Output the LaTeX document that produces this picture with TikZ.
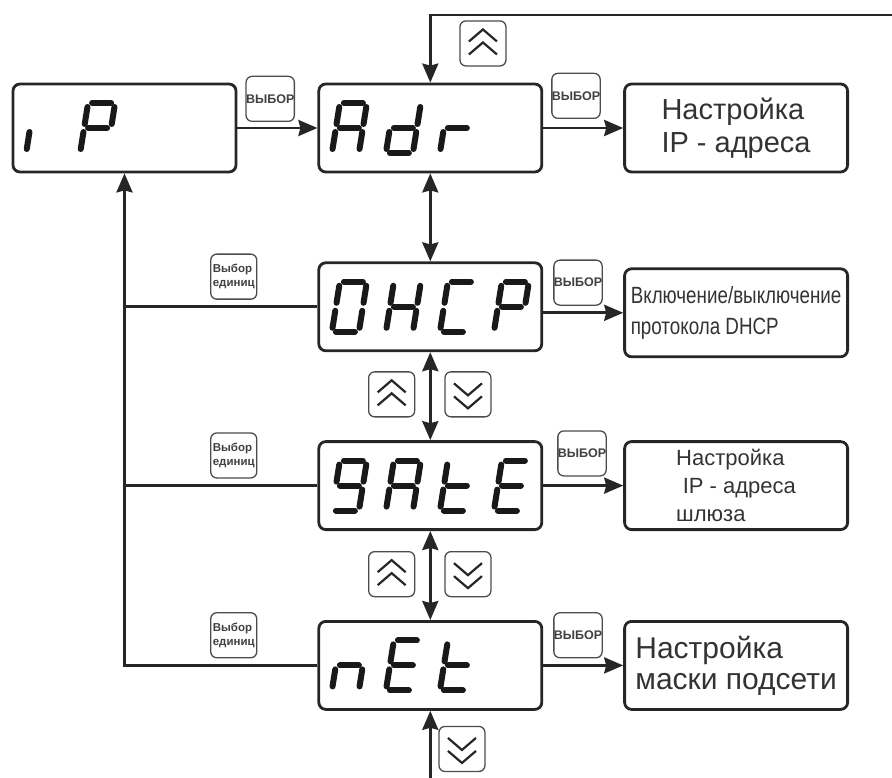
\documentclass[tikz,border=0pt]{standalone}
\usepackage{fontspec}
\setmainfont{Liberation Sans}
\usepackage{graphicx}
\usetikzlibrary{arrows.meta, positioning, calc}

% one character of a seven-segment display: node, position, segments
\newcommand\lcdchar[3]{%
  \begin{scope}[shift={(#1.west)}, xshift={22.5pt+54pt*#2}, yshift=25pt, xslant=0.16]
    \coordinate (a1) at (4,0);   \coordinate (a2) at (23,0);
    \coordinate (g1) at (4,25);  \coordinate (g2) at (23,25);
    \coordinate (d1) at (4,50);  \coordinate (d2) at (23,50);
    \coordinate (f1) at (0,4);   \coordinate (f2) at (0,21);
    \coordinate (e1) at (0,29);  \coordinate (e2) at (0,46);
    \coordinate (b1) at (27,4);  \coordinate (b2) at (27,21);
    \coordinate (c1) at (27,29); \coordinate (c2) at (27,46);
    \foreach \s in {#3} \draw[segline] (\s1) -- (\s2);
  \end{scope}}

\begin{document}
\begin{tikzpicture}[x=1pt, y=-1pt,
  disp/.style={draw=black!85, line width=2.8pt, rounded corners=7pt, minimum width=223pt, minimum height=88pt, inner sep=0pt},
  infobox/.style={disp, align=left, text=black!80},
  btn/.style={draw=black!70, line width=1.3pt, rounded corners=6pt, minimum width=46pt, minimum height=45pt, inner sep=0pt},
  selbtn/.style={btn, text=black!75, font=\fontsize{12.5}{12.5}\selectfont\bfseries},
  unitbtn/.style={btn, align=left, text=black!75, font=\fontsize{11.5}{13.5}\selectfont\bfseries},
  chev/.style={draw=black!85, line width=2.2pt, sharp corners},
  upbtn/.style={btn, path picture={\draw[chev, shift={(path picture bounding box.center)}] (-14,-2) -- (0,-14) -- (14,-2) (-14,11) -- (0,-1) -- (14,11);}},
  dnbtn/.style={btn, path picture={\draw[chev, shift={(path picture bounding box.center)}] (-14,2) -- (0,14) -- (14,2) (-14,-11) -- (0,1) -- (14,-11);}},
  segline/.style={black!90, line width=6pt, line cap=round},
  link/.style={draw=black!85, line width=2.8pt},
  arr/.style={link, -{Stealth[length=19pt, width=16pt, inset=2pt]}},
  dbl/.style={link, {Stealth[length=19pt, width=16pt, inset=2pt]}-{Stealth[length=19pt, width=16pt, inset=2pt]}},
]
  \useasboundingbox (0,0) rectangle (892,778);

  % displays
  \node[disp] (ip) at (124.5,128) {};
  \node[disp, right=80pt of ip] (adr) {};
  \node[disp, below=88pt of adr] (dhcp) {};
  \node[disp, below=88pt of dhcp] (gate) {};
  \node[disp, below=89pt of gate] (net) {};

  % settings
  \node[infobox, right=80pt of adr, font=\fontsize{29}{33}\selectfont] (t1) {Настройка\\IP - адреса};
  \node[infobox, right=80pt of dhcp, yshift=-6pt, font=\fontsize{23.5}{31}\selectfont] (t2)
    {\scalebox{0.8}[1]{\begin{tabular}{@{}l@{}}Включение/выключение\\протокола DHCP\end{tabular}}};
  \node[infobox, right=80pt of gate, font=\fontsize{22}{28}\selectfont] (t3) {Настройка\\\hspace*{0.3em}IP - адреса\\шлюза};
  \node[infobox, right=80pt of net, font=\fontsize{30}{31}\selectfont] (t4) {Настройка\\маски подсети};

  % keys
  \node[selbtn, above right=6pt and 8pt of ip.east] (s0) {ВЫБОР};
  \node[selbtn, above right=9pt and 8pt of adr.east] (s1) {ВЫБОР};
  \node[selbtn, above right=1pt and 10pt of dhcp.east] (s2) {ВЫБОР};
  \node[selbtn, above right=9pt and 14pt of gate.east] (s3) {ВЫБОР};
  \node[selbtn, above right=7pt and 10pt of net.east] (s4) {ВЫБОР};
  \node[unitbtn, above left=7pt and 60pt of dhcp.west] (u1) {Выбор\\единиц};
  \node[unitbtn, above left=7pt and 60pt of gate.west] (u2) {Выбор\\единиц};
  \node[unitbtn, above left=7pt and 60pt of net.west] (u3) {Выбор\\единиц};
  \node[upbtn, above right=16pt and 29pt of adr.north] (upT) {};
  \node[upbtn, below left=19pt and 15pt of dhcp.south] (up1) {};
  \node[dnbtn, below right=19pt and 14pt of dhcp.south] (dn1) {};
  \node[upbtn, below left=20pt and 15pt of gate.south] (up2) {};
  \node[dnbtn, below right=20pt and 14pt of gate.south] (dn2) {};
  \node[dnbtn, below right=15pt and 8pt of net.south] (dnB) {};

  % connectors
  \coordinate (topR) at (892,15);
  \coordinate[below=71pt of net.south] (botS);
  \draw[arr] (ip) -- (adr);
  \draw[arr] (adr) -- (t1);
  \draw[arr] (dhcp.east |- t2) -- (t2);
  \draw[arr] (gate) -- (t3);
  \draw[arr] (net) -- (t4);
  \draw[dbl] (adr) -- (dhcp);
  \draw[dbl] (dhcp) -- (gate);
  \draw[dbl] (gate) -- (net);
  \draw[arr] (topR) -| (adr.north);
  \draw[arr] (botS) -- (net.south);
  \draw[arr] (net.west) -| (ip.south);
  \draw[link] (dhcp.west) -- (dhcp.west -| ip.south);
  \draw[link] (gate.west) -- (gate.west -| ip.south);

  % segment characters
  \lcdchar{ip}{0}{e}
  \lcdchar{ip}{1}{a,b,e,f,g}
  \lcdchar{adr}{0}{a,b,c,e,f,g}
  \lcdchar{adr}{1}{b,c,d,e,g}
  \lcdchar{adr}{2}{e,g}
  \lcdchar{dhcp}{0}{a,b,c,d,e,f}
  \lcdchar{dhcp}{1}{b,c,e,f,g}
  \lcdchar{dhcp}{2}{a,d,e,f}
  \lcdchar{dhcp}{3}{a,b,e,f,g}
  \lcdchar{gate}{0}{a,b,c,d,f,g}
  \lcdchar{gate}{1}{a,b,c,e,f,g}
  \lcdchar{gate}{2}{d,e,f,g}
  \lcdchar{gate}{3}{a,d,e,f,g}
  \lcdchar{net}{0}{c,e,g}
  \lcdchar{net}{1}{a,d,e,f,g}
  \lcdchar{net}{2}{d,e,f,g}
\end{tikzpicture}
\end{document}
